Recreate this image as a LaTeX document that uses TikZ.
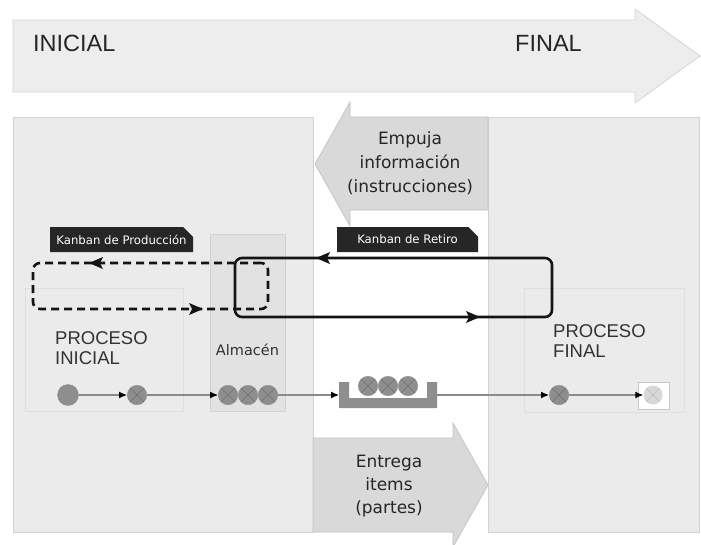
\documentclass[tikz,border=0pt]{standalone}
\usepackage{fontspec}
\setmainfont{Liberation Sans}
\newfontfamily\tahfont{DejaVu Sans}
\usetikzlibrary{arrows.meta,decorations.markings,shapes.misc}
\definecolor{panel}{HTML}{EBEBEB}
\definecolor{panelline}{HTML}{D2D2D2}
\definecolor{bigarrow}{HTML}{EDEDED}
\definecolor{bigarrowline}{HTML}{D6D6D6}
\definecolor{midarrow}{HTML}{D9D9D9}
\definecolor{midline}{HTML}{C2C2C2}
\definecolor{storefill}{HTML}{E2E2E2}
\definecolor{itemfill}{HTML}{8E8E8E}
\definecolor{itemline}{HTML}{707070}
\definecolor{flowline}{HTML}{8A8A8A}
\definecolor{labelfill}{HTML}{262626}
\definecolor{lightitem}{HTML}{D8D8D8}
\definecolor{lightx}{HTML}{BDBDBD}
\newcommand{\looptip}{\fill[black!92,solid,sharp corners] (7pt,0pt) -- (-7pt,6pt) -- (-4pt,0pt) -- (-7pt,-6pt) -- cycle;}
\begin{document}
\begin{tikzpicture}[x=1pt,y=-1pt,
  panelbox/.style={fill=panel,draw=panelline,line width=0.8pt},
  innerbox/.style={fill=panel,draw=panelline!70,line width=0.6pt},
  storebox/.style={fill=storefill,draw=panelline,line width=0.6pt},
  midarrowshape/.style={fill=midarrow,draw=midline,line width=0.7pt},
  xitem/.style={circle,minimum size=19.5pt,inner sep=0pt,fill=itemfill,draw=itemline!80,line width=0.4pt,
    path picture={\draw[itemline,line width=0.5pt] (path picture bounding box.north west)--(path picture bounding box.south east) (path picture bounding box.north east)--(path picture bounding box.south west);}},
  lxitem/.style={circle,minimum size=19pt,inner sep=0pt,fill=lightitem,
    path picture={\draw[lightx,line width=0.5pt] (path picture bounding box.north west)--(path picture bounding box.south east) (path picture bounding box.north east)--(path picture bounding box.south west);}},
  dotitem/.style={circle,minimum size=21pt,inner sep=0pt,fill=itemfill,draw=itemline!80,line width=0.4pt},
  flowarrow/.style={draw=flowline,line width=1.2pt,-{Latex[length=8pt,width=7pt,color=black]}},
  kanban/.style={chamfered rectangle,chamfered rectangle corners=north east,chamfered rectangle xsep=5pt,chamfered rectangle ysep=5pt,
    fill=labelfill,text=white,inner sep=0pt,minimum height=25pt,font=\tahfont\fontsize{11.7}{14}\selectfont},
  bigtext/.style={inner sep=0pt,font=\fontsize{23.5}{28}\selectfont,text=black!85},
  proctext/.style={inner sep=0pt,align=left,font=\fontsize{18.5}{20}\selectfont,text=black!80},
  midtext/.style={inner sep=0pt,align=center,font=\tahfont\fontsize{17}{24}\selectfont,text=black!85},
  loopline/.style={line width=2.6pt,draw=black!92,rounded corners=7pt},
]
\useasboundingbox (0,0) rectangle (701,544);
\fill[white] (0,0) rectangle (701,544);
% top arrow
\draw[fill=bigarrow,draw=bigarrowline,line width=0.8pt] (13,20) -- (635,20) -- (635,9) -- (700,56) -- (635,103) -- (635,92) -- (13,92) -- cycle;
\node[bigtext,anchor=base west] (tini) at (33,51.5) {INICIAL};
\node[bigtext,anchor=base west] (tfin) at (515,51) {FINAL};
% panels
\draw[panelbox] (13,117) rectangle (313,532);
\draw[panelbox] (488,117) rectangle (699,532);
% middle arrows
\draw[midarrowshape] (488,117) -- (350,117) -- (350,102) -- (315,164) -- (350,226) -- (350,210) -- (488,210) -- cycle;
\node[midtext] (push) at (410,163) {Empuja\\información\\(instrucciones)};
\draw[midarrowshape] (313,438) -- (453,438) -- (453,423) -- (488,485) -- (453,547) -- (453,532) -- (313,532) -- cycle;
\node[midtext,font=\tahfont\fontsize{17}{23}\selectfont] (deliver) at (389,486) {Entrega\\items\\(partes)};
% inner boxes
\draw[innerbox] (25,288) rectangle (183,411);
\draw[storebox] (210,234) rectangle (285,411);
\draw[innerbox] (524,288) rectangle (684,412);
\node[proctext,anchor=west] (pini) at (55,348.3) {PROCESO\\INICIAL};
\node[proctext,anchor=west] (pfin) at (553,341.4) {PROCESO\\FINAL};
\node[inner sep=0pt,anchor=base,font=\tahfont\fontsize{14.5}{17}\selectfont,text=black!80] (alm) at (247.5,355) {Almacén};
% kanban labels
\node[kanban,minimum width=143pt] (kprod) at (121.5,239.5) {Kanban de Producción};
\node[kanban,minimum width=141pt] (kret) at (407.5,239.5) {Kanban de Retiro};
% dashed loop
\coordinate (d1) at (268,263);
\coordinate (d2) at (33,263);
\coordinate (d3) at (33,309);
\coordinate (d4) at (268,309);
\draw[loopline,dash pattern=on 8pt off 5pt,
  postaction={decorate,solid},
  decoration={markings,
    mark=at position 165pt with {\looptip},
    mark=at position 431pt with {\looptip}}]
  (d1) -- (d2) -- (d3) -- (d4) -- cycle;
% solid loop
\coordinate (s1) at (552,258);
\coordinate (s2) at (235,258);
\coordinate (s3) at (235,317);
\coordinate (s4) at (552,317);
\draw[loopline,
  postaction={decorate},
  decoration={markings,
    mark=at position 222pt with {\looptip},
    mark=at position 601pt with {\looptip}}]
  (s1) -- (s2) -- (s3) -- (s4) -- cycle;
% tray
\fill[itemfill] (339,382) -- (349,382) -- (349,398) -- (427,398) -- (427,382) -- (437,382) -- (437,408) -- (339,408) -- cycle;
\coordinate (trayL) at (339,395);
\coordinate (trayR) at (437,395);
% items
\node[dotitem] (c1) at (68,395) {};
\node[xitem] (c2) at (137,395) {};
\node[xitem] (a1) at (228,395) {};
\node[xitem] (a2) at (248,395) {};
\node[xitem] (a3) at (268,395) {};
\node[xitem] (t1) at (368,386) {};
\node[xitem] (t2) at (388,386) {};
\node[xitem] (t3) at (408,386) {};
\node[xitem] (c6) at (559,395) {};
\node[rectangle,fill=white,draw=black!22,line width=0.6pt,minimum width=31pt,minimum height=27pt,inner sep=0pt] (lbox) at (653.5,395.5) {};
\node[lxitem] (c7) at (653,395) {};
% flow
\draw[flowarrow] (c1) -- (c2);
\draw[flowarrow] (c2) -- (a1);
\draw[flowarrow] (a3) -- (trayL);
\draw[flowarrow] (trayR) -- (c6);
\draw[flowarrow] (c6) -- (c7);
\end{tikzpicture}
\end{document}
